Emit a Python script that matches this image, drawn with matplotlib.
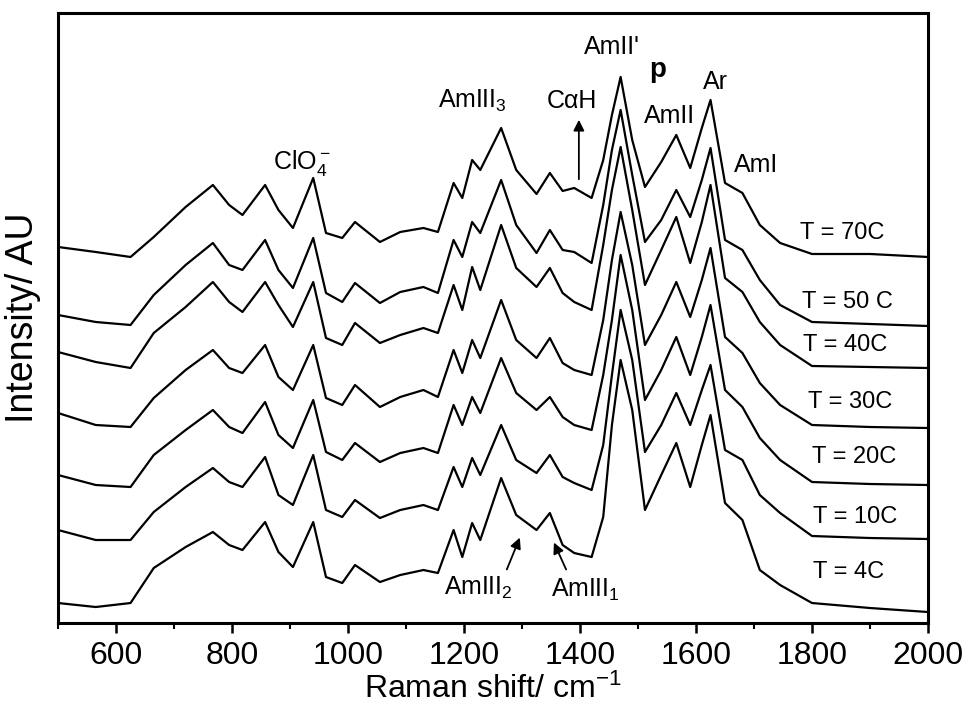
import matplotlib
matplotlib.use('Agg')
import matplotlib.pyplot as plt
from matplotlib.ticker import MultipleLocator

plt.rcParams['font.family'] = ['Liberation Sans', 'DejaVu Sans']
plt.rcParams['mathtext.fontset'] = 'custom'
plt.rcParams['mathtext.rm'] = 'Liberation Sans'
plt.rcParams['mathtext.it'] = 'Liberation Sans:italic'
plt.rcParams['mathtext.bf'] = 'Liberation Sans:bold'

# Raman shift knots (cm-1) shared by all spectra
raman_shift = [500, 565, 625, 665, 720, 767, 795, 818, 857, 880, 905, 940, 962, 990,
               1012, 1055, 1090, 1130, 1155, 1182, 1197, 1214, 1228, 1264, 1290, 1325,
               1348, 1370, 1390, 1420, 1440, 1455, 1470, 1490, 1512, 1540, 1566, 1590,
               1610, 1625, 1650, 1680, 1710, 1745, 1800, 1900, 2000]

# stacked intensities (AU, offsets included)
i_70c = [376, 371, 366, 386, 416, 438, 418, 408, 438, 413, 395, 445, 390, 385,
         401, 381, 391, 395, 391, 440, 425, 463, 453, 495, 453, 429,
         450, 432, 435, 425, 463, 508, 546, 483, 436, 461, 488, 455,
         495, 523, 440, 430, 398, 380, 369, 369, 366]
i_50c = [308, 301, 298, 328, 358, 380, 358, 353, 383, 353, 335, 385, 330, 321,
         340, 320, 331, 336, 330, 383, 366, 401, 390, 443, 398, 370,
         393, 373, 371, 360, 418, 473, 513, 448, 381, 403, 433, 406,
         443, 475, 383, 373, 343, 318, 301, 299, 297]
i_40c = [271, 261, 255, 290, 316, 341, 321, 311, 341, 318, 296, 341, 285, 278,
         300, 280, 288, 295, 290, 338, 313, 356, 333, 398, 355, 336,
         355, 330, 321, 313, 378, 433, 476, 413, 338, 373, 406, 360,
         401, 438, 345, 331, 301, 278, 257, 256, 255]
i_30c = [210, 198, 196, 225, 253, 273, 255, 250, 278, 246, 233, 278, 225, 218,
         238, 216, 226, 233, 226, 273, 250, 283, 265, 323, 283, 265,
         285, 260, 253, 248, 303, 363, 411, 358, 278, 308, 341, 306,
         343, 375, 286, 270, 240, 218, 198, 196, 195]
i_20c = [148, 138, 136, 168, 193, 213, 196, 190, 221, 188, 175, 223, 171, 163,
         180, 161, 170, 175, 170, 218, 198, 226, 210, 265, 230, 213,
         226, 206, 198, 193, 248, 303, 368, 313, 223, 253, 286, 248,
         286, 318, 233, 216, 185, 163, 141, 139, 138]
i_10c = [93, 83, 83, 111, 136, 155, 141, 136, 166, 128, 118, 168, 113, 106,
         123, 105, 113, 118, 113, 156, 136, 165, 148, 198, 163, 150,
         168, 146, 140, 133, 178, 248, 313, 263, 171, 198, 230, 198,
         233, 258, 173, 163, 128, 110, 87, 85, 84]
i_4c = [20, 16, 20, 55, 76, 91, 78, 73, 101, 71, 56, 101, 46, 40,
        58, 41, 48, 53, 50, 93, 66, 100, 83, 145, 108, 93,
        110, 78, 70, 66, 106, 198, 263, 213, 113, 148, 180, 136,
        178, 208, 120, 103, 53, 38, 20, 15, 11]

spectra = [i_70c, i_50c, i_40c, i_30c, i_20c, i_10c, i_4c]
temp_labels = ['T = 70C', 'T = 50 C', 'T = 40C', 'T = 30C', 'T = 20C', 'T = 10C', 'T = 4C']
temp_label_x = [1779, 1783, 1785, 1793, 1800, 1802, 1802]
temp_label_y = [390, 321, 278, 221, 166, 106, 51]

fig = plt.figure(figsize=(9.69, 7.13), dpi=100)
ax = fig.add_axes([0.0599, 0.1262, 0.8978, 0.8556])

for spec in spectra:
    ax.plot(raman_shift, spec, color='black', linewidth=1.6)

for lab, tx, ty in zip(temp_labels, temp_label_x, temp_label_y):
    ax.text(tx, ty, lab, fontsize=17, ha='left', va='center')

# band assignments
ax.text(920, 460, r'ClO$_4^-$', fontsize=18, ha='center', va='center')
ax.text(1215, 522, r'AmIII$_3$', fontsize=18, ha='center', va='center')
ax.text(1386, 522, 'C\u03b1H', fontsize=18, ha='center', va='center')
ax.annotate('', xy=(1398, 506), xytext=(1398, 441),
            arrowprops=dict(arrowstyle='-|>', color='black', lw=1.3, mutation_scale=16))
ax.text(1455, 576, "AmII'", fontsize=18, ha='center', va='center')
ax.text(1534, 553, 'p', fontsize=20, fontweight='bold', ha='center', va='center')
ax.text(1555, 507, 'AmII', fontsize=18, ha='center', va='center')
ax.text(1634, 541, 'Ar', fontsize=18, ha='center', va='center')
ax.text(1703, 458, 'AmI', fontsize=18, ha='center', va='center')

ax.text(1224, 35, r'AmIII$_2$', fontsize=18, ha='center', va='center')
ax.annotate('', xy=(1298, 88), xytext=(1272, 51),
            arrowprops=dict(arrowstyle='-|>', color='black', lw=1.3, mutation_scale=16))
ax.text(1409, 33, r'AmIII$_1$', fontsize=18, ha='center', va='center')
ax.annotate('', xy=(1353, 83), xytext=(1378, 51),
            arrowprops=dict(arrowstyle='-|>', color='black', lw=1.3, mutation_scale=16))

ax.set_xlim(500, 2000)
ax.set_ylim(0, 610)
ax.xaxis.set_major_locator(MultipleLocator(200))
ax.xaxis.set_minor_locator(MultipleLocator(100))
ax.set_yticks([])
ax.tick_params(axis='x', which='major', direction='out', length=7, width=1.8,
               labelsize=23, pad=6, top=False)
ax.tick_params(axis='x', which='minor', direction='out', length=4, width=1.5, top=False)
for sp in ax.spines.values():
    sp.set_linewidth(2.2)

ax.set_xlabel(r'Raman shift/ cm$^{-1}$', fontsize=23, labelpad=2)
ax.set_ylabel('Intensity/ AU', fontsize=27, labelpad=12)

fig.savefig('out.png', dpi=100)
